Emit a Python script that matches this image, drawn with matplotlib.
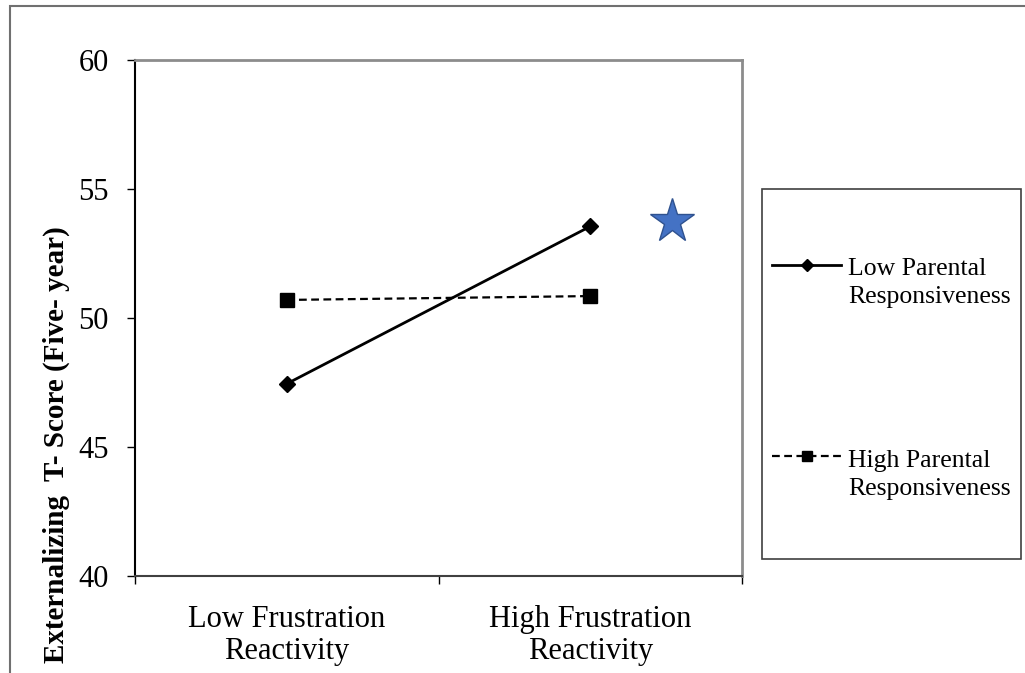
import numpy as np
import matplotlib
matplotlib.use("Agg")
from matplotlib import pyplot as plt
from matplotlib.patches import Rectangle
from matplotlib.legend_handler import HandlerLine2D

plt.rcParams['font.family'] = ['Liberation Serif', 'DejaVu Serif']

categories = ["Low Frustration\nReactivity", "High Frustration\nReactivity"]
low_parental = [47.45, 53.55]
high_parental = [50.7, 50.85]
series_names = ["Low Parental\nResponsiveness", "High Parental\nResponsiveness"]
star_point = (1.27, 53.75)
y_ticks = [40, 45, 50, 55, 60]


class FirstLineHandler(HandlerLine2D):
    # put the handle next to the first line of a two-line label
    def create_artists(self, legend, orig_handle, xdescent, ydescent,
                       width, height, fontsize, trans):
        artists = super().create_artists(legend, orig_handle, xdescent, ydescent,
                                         width, height, fontsize, trans)
        for a in artists:
            a.set_ydata(np.asarray(a.get_ydata()) + 0.7 * fontsize)
        return artists


def main():
    W, H = 1025, 673
    fig = plt.figure(figsize=(W / 100, H / 100), dpi=100, facecolor='white')
    ax = fig.add_axes([135 / W, 1 - 576 / H, 607 / W, 516 / H])

    x = np.arange(len(categories))
    l1, = ax.plot(x, low_parental, color='black', lw=2, marker='D', ms=8.5,
                  label=series_names[0])
    l2, = ax.plot(x, high_parental, color='black', lw=1.6, ls=(0, (3.5, 2)),
                  marker='s', ms=10, label=series_names[1])
    ax.plot([star_point[0]], [star_point[1]], marker='*', ms=33,
            color='#4472C4', markeredgecolor='#2F528F', markeredgewidth=1, ls='none')

    ax.set_xlim(-0.5, 1.5)
    ax.set_ylim(40, 60)
    ax.set_yticks(y_ticks)
    ax.tick_params(axis='y', direction='out', length=6, width=1, labelsize=22, pad=13)
    ax.set_xticks([-0.5, 0.5, 1.5])
    ax.set_xticklabels([])
    ax.set_xticks(x, minor=True)
    ax.set_xticklabels(categories, minor=True, fontsize=22, linespacing=1.12)
    ax.tick_params(axis='x', which='major', direction='out', length=6, width=1)
    ax.tick_params(axis='x', which='minor', length=0, pad=21)

    ax.spines['left'].set_color('black')
    ax.spines['left'].set_linewidth(1.5)
    ax.spines['bottom'].set_color('#404040')
    ax.spines['bottom'].set_linewidth(1.5)
    for s in ('top', 'right'):
        ax.spines[s].set_color('#8c8c8c')
        ax.spines[s].set_linewidth(2)

    ax.set_ylabel("Externalizing  T- Score (Five- year)", fontsize=21, fontweight='bold')
    ax.yaxis.label.set_va('center')
    ax.yaxis.set_label_coords(-0.13, 0.254)

    # legend box
    fig.patches.append(Rectangle((762 / W, 1 - 559 / H), (1021 - 762) / W, (559 - 189) / H,
                                 transform=fig.transFigure, fill=False,
                                 edgecolor='#404040', lw=1.2))
    handler = FirstLineHandler()
    leg = fig.legend(handles=[l1, l2], frameon=False, loc='center left',
                     bbox_to_anchor=(772 / W, 1 - 379 / H), fontsize=18.5,
                     borderpad=0, borderaxespad=0, handlelength=2.7, handletextpad=0.25,
                     labelspacing=5.5, markerscale=0.75,
                     handler_map={l1: handler, l2: handler})
    for t in leg.get_texts():
        t.set_linespacing(1.38)

    # outer frame
    fig.patches.append(Rectangle((10 / W, -0.02), 1.1, 1.02 - 6 / H,
                                 transform=fig.transFigure, fill=False,
                                 edgecolor='#707070', lw=1.5))

    fig.savefig("out.png", dpi=100, facecolor='white')


if __name__ == "__main__":
    main()
